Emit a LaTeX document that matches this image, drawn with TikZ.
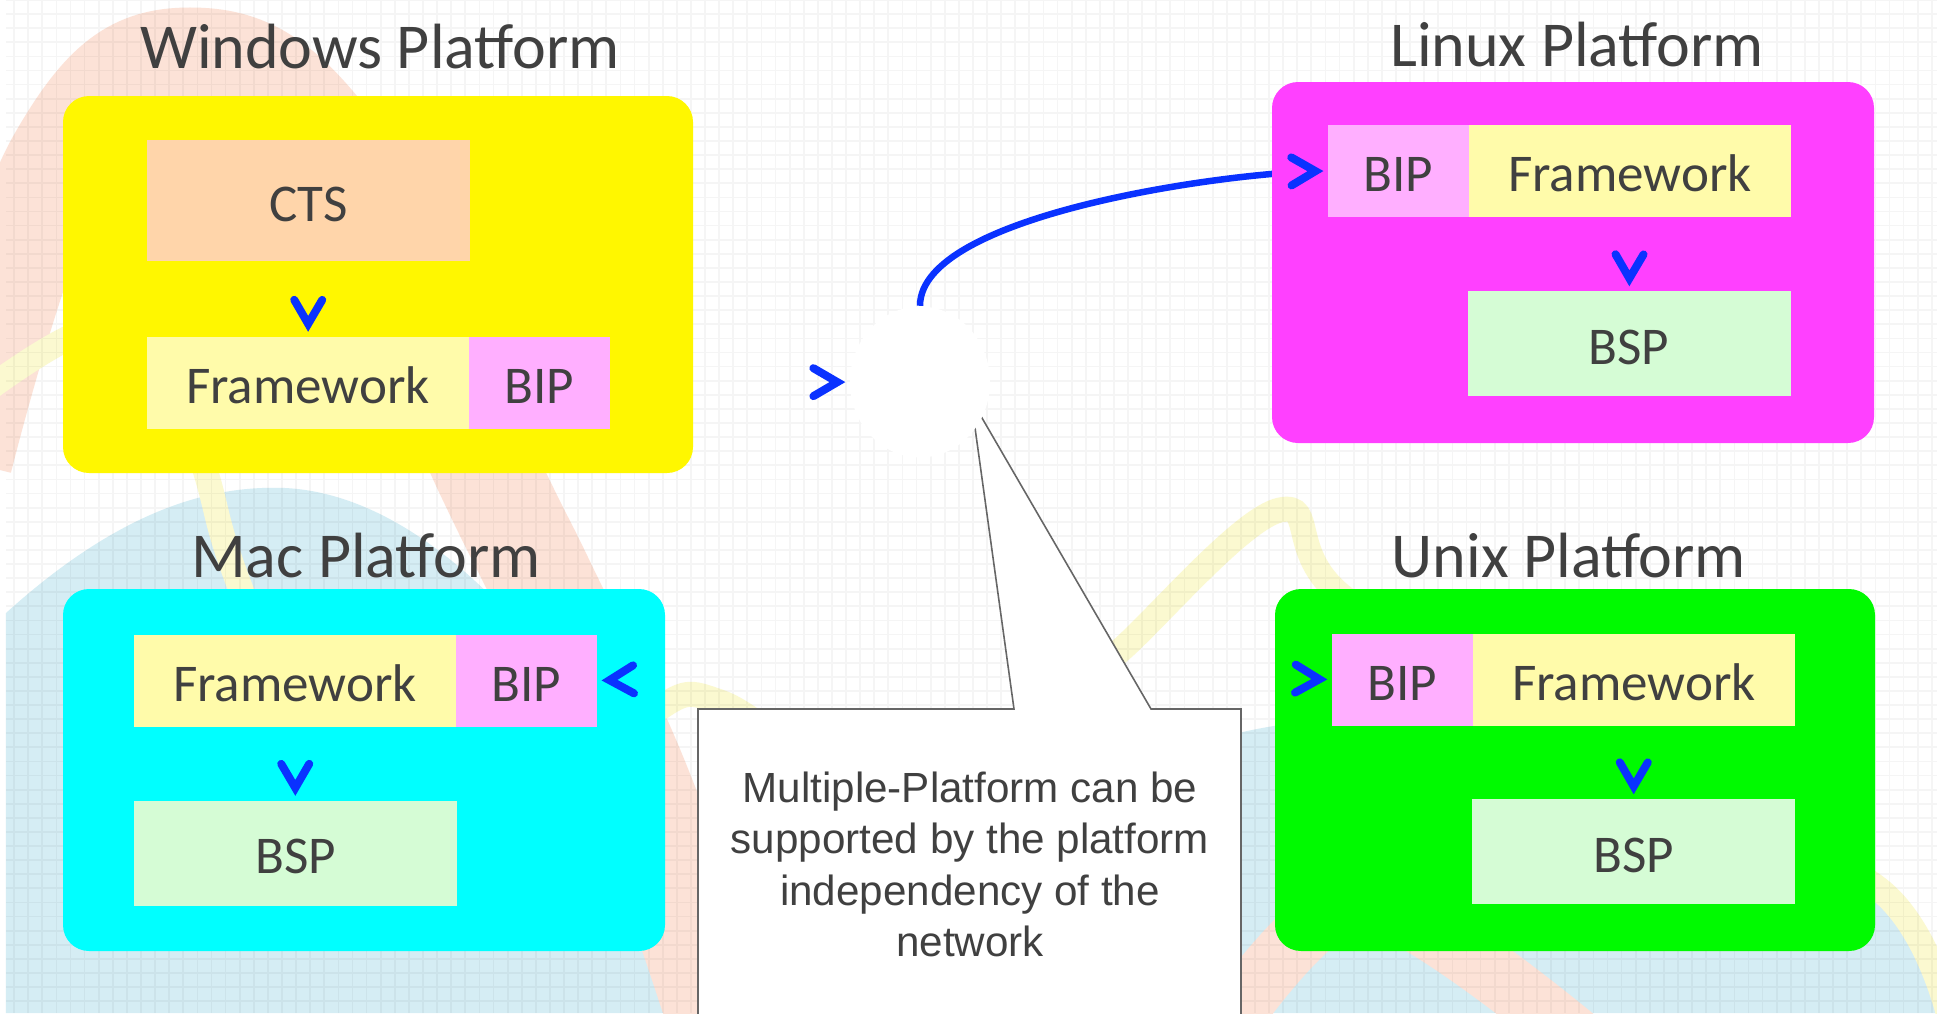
\documentclass[tikz,border=0pt]{standalone}
\usepackage{fontspec}
\setmainfont{Carlito}
\newfontfamily\notefont{Liberation Sans}
\usetikzlibrary{arrows.meta,shapes.geometric,decorations.markings}
\pgfdeclarelayer{bglayer}
\pgfdeclarelayer{edgelayer}
\pgfdeclarelayer{nodelayer}
\pgfsetlayers{bglayer,edgelayer,nodelayer,main}
\definecolor{ink}{RGB}{64,64,64}
\definecolor{chev}{RGB}{10,50,255}
\definecolor{winfill}{RGB}{255,247,0}
\definecolor{linfill}{RGB}{255,64,255}
\definecolor{macfill}{RGB}{0,255,255}
\definecolor{unxfill}{RGB}{0,250,0}
\definecolor{ctsfill}{RGB}{255,213,170}
\definecolor{fwfill}{RGB}{255,251,170}
\definecolor{bipfill}{RGB}{255,175,255}
\definecolor{bspfill}{RGB}{213,252,213}
\definecolor{peach}{RGB}{252,226,215}
\definecolor{sky}{RGB}{213,237,244}
\definecolor{sun}{RGB}{251,249,208}
\tikzset{font=\fontsize{15.1}{17}\selectfont}
\tikzstyle{none}=[inner sep=0pt]
\tikzstyle{platform}=[rectangle,rounded corners=0.26cm,inner sep=0pt]
\tikzstyle{title}=[inner sep=0pt,anchor=base,text=ink,font=\fontsize{18.2}{21}\selectfont]
\tikzstyle{part}=[rectangle,inner sep=0pt,text=ink,text height=0.41cm,text depth=0pt]
\tikzstyle{cts}=[part,fill=ctsfill,minimum width=3.23cm,minimum height=1.21cm]
\tikzstyle{fw}=[part,fill=fwfill,minimum width=3.22cm,minimum height=0.92cm]
\tikzstyle{bip}=[part,fill=bipfill,minimum width=1.41cm,minimum height=0.92cm]
\tikzstyle{bsp}=[part,fill=bspfill,minimum width=3.23cm,minimum height=1.05cm]
\tikzstyle{net}=[ellipse,fill=white,minimum width=1.40cm,minimum height=1.51cm,inner sep=0pt]
\tikzstyle{note}=[inner sep=0pt,align=center,text=ink,font=\notefont\fontsize{12}{14.6}\selectfont]
\tikzstyle{callout}=[fill=white,draw=black!60,line width=0.45pt,line join=miter]
\tikzstyle{link}=[draw=chev,line width=1.85pt]
\tikzstyle{tip}=[postaction={decorate},decoration={markings,
  mark=at position -0.04cm with {\arrow{Straight Barb[length=0.24cm,width=0.28cm,line width=0.08cm,line cap=round,line join=miter,color=chev]}}}]
\tikzstyle{peachband}=[draw=peach,line width=1.05cm]
\tikzstyle{sunband}=[draw=sun,line width=0.25cm]
\tikzstyle{gridline}=[draw=black,draw opacity=0.04,line width=0.5pt]

\begin{document}
\begin{tikzpicture}
	\useasboundingbox (0,0) rectangle (19.37,-10.13);
	\begin{pgfonlayer}{bglayer}
		\fill[white] (0,0) rectangle (19.37,-10.13);
		\fill[sky] (0.06,-6.13) .. controls (1.2,-5.1) and (2.1,-4.85) .. (2.85,-4.88) .. controls (4.3,-4.95) and (5.8,-6.6) .. (6.75,-8.8) -- (7.0,-10.13) -- (0.06,-10.13) -- cycle;
		\fill[sky] (12.3,-7.35) .. controls (14.5,-6.8) and (17.5,-7.6) .. (19.37,-9.55) -- (19.37,-10.13) -- (12.3,-10.13) -- cycle;
		\draw[peachband] plot[smooth,tension=0.7] coordinates {(-0.4,-4.6) (0.6,-1.6) (1.9,-0.6) (3.4,-1.6) (4.88,-4.73) (5.45,-5.89) (6.4,-7.9) (7.3,-10.5)};
		\draw[peachband,line width=0.6cm] plot[smooth] coordinates {(12.1,-10.5) (13.6,-9.0) (15.9,-10.5)};
		\draw[sunband] plot[smooth,tension=0.6] coordinates {(-0.2,-3.95) (0.9,-3.3) (1.7,-3.6) (2.06,-4.73) (2.40,-5.87) (3.5,-8.5) (5.0,-8.6) (6.5,-7.15) (7.2,-7.02) (8.4,-7.8) (9.6,-8.2) (10.6,-7.05) (11.22,-6.49) (12.8,-5.1) (13.47,-6.0) (16.5,-7.8) (18.8,-8.9) (19.5,-10.2)};
		\draw[gridline] (0.06,0) grid[step=0.141] (19.37,-10.13);
	\end{pgfonlayer}
	\begin{pgfonlayer}{nodelayer}
		% platforms
		\node [style=platform,fill=winfill,minimum width=6.30cm,minimum height=3.77cm] (win) at (3.78,-2.845) {};
		\node [style=platform,fill=linfill,minimum width=6.02cm,minimum height=3.61cm] (lin) at (15.73,-2.625) {};
		\node [style=platform,fill=macfill,minimum width=6.02cm,minimum height=3.62cm] (mac) at (3.64,-7.70) {};
		\node [style=platform,fill=unxfill,minimum width=6.00cm,minimum height=3.62cm] (unx) at (15.75,-7.70) {};
		\node [style=title] (wtitle) at (3.80,-0.69) {Windows Platform};
		\node [style=title] (ltitle) at (15.77,-0.67) {Linux Platform};
		\node [style=title] (mtitle) at (3.66,-5.77) {Mac Platform};
		\node [style=title] (utitle) at (15.69,-5.77) {Unix Platform};
		% windows
		\node [style=cts] (wcts) at (3.085,-2.005) {CTS};
		\node [style=fw] (wfw) at (3.08,-3.825) {Framework};
		\node [style=bip] (wbip) at (5.395,-3.825) {BIP};
		% linux
		\node [style=bip] (lbip) at (13.985,-1.71) {BIP};
		\node [style=fw] (lfw) at (16.30,-1.71) {Framework};
		\node [style=bsp] (lbsp) at (16.29,-3.435) {BSP};
		% mac
		\node [style=fw] (mfw) at (2.95,-6.805) {Framework};
		\node [style=bip] (mbip) at (5.265,-6.805) {BIP};
		\node [style=bsp] (mbsp) at (2.955,-8.53) {BSP};
		% unix
		\node [style=bip] (ubip) at (14.025,-6.795) {BIP};
		\node [style=fw] (ufw) at (16.34,-6.795) {Framework};
		\node [style=bsp] (ubsp) at (16.335,-8.515) {BSP};
		% network
		\node [style=net] (net) at (9.20,-3.82) {};
		\node [style=note] (note) at (9.70,-8.645) {Multiple-Platform can be\\supported by the platform\\independency of the\\network};
	\end{pgfonlayer}
	\begin{pgfonlayer}{edgelayer}
		\filldraw[callout] (6.98,-10.4) -- (6.98,-7.09) -- (10.14,-7.09) -- (9.71,-3.99) -- (11.51,-7.09) -- (12.41,-7.09) -- (12.41,-10.4);
		\draw[link] (net) to[out=90,in=180,looseness=0.55] (lbip);
	\end{pgfonlayer}
	\path[tip] (wcts) to (wfw);
	\path[tip] (wbip) to (net);
	\path[tip] (net) to[out=90,in=180,looseness=0.55] (lbip);
	\path[tip] (lfw) to (lbsp);
	\path[tip] (net) to[out=180,in=0] (mbip);
	\path[tip] (mfw) to (mbsp);
	\path[tip] (net) to[out=0,in=180] (ubip);
	\path[tip] (ufw) to (ubsp);
\end{tikzpicture}
\end{document}
